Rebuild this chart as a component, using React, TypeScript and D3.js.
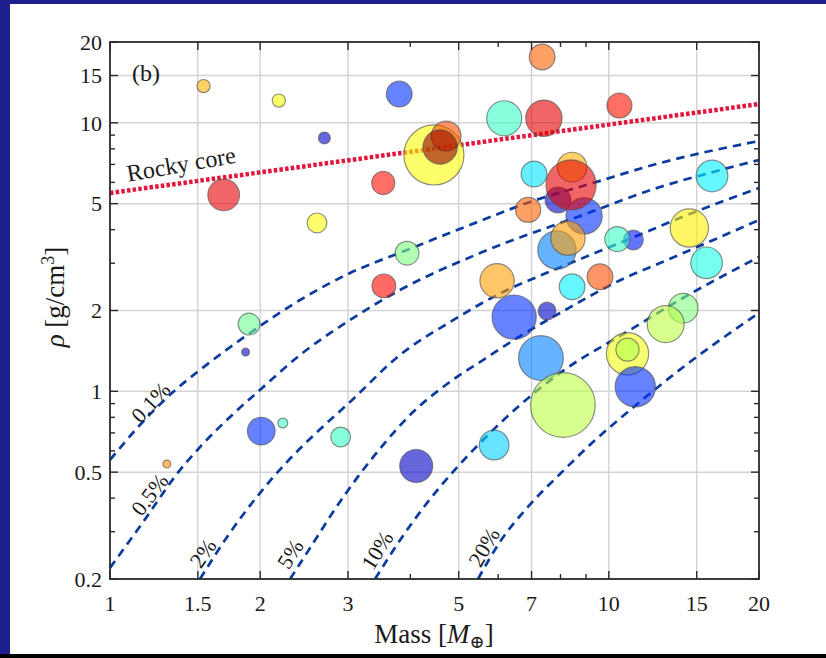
import React, { useEffect, useRef } from 'react';
import * as d3 from 'd3';

const W = 826;
const H = 658;
const FONT = "'Liberation Serif', 'DejaVu Serif', serif";

// axes
const xMajor = [1, 1.5, 2, 3, 5, 7, 10, 15, 20];
const xLabels = ['1', '1.5', '2', '3', '5', '7', '10', '15', '20'];
const xMinor = [4, 6, 8, 9];
const xGrid = [1.5, 2, 3, 5, 7, 10, 15];
const yMajor = [0.2, 0.5, 1, 2, 5, 10, 15, 20];
const yLabels = ['0.2', '0.5', '1', '2', '5', '10', '15', '20'];
const yMinor = [0.3, 0.4, 0.6, 0.7, 0.8, 0.9, 3, 4, 6, 7, 8, 9];
const yGrid = [0.5, 1, 2, 5, 10, 15];

// rocky core relation (mass, density)
const rockyCore: [number, number][] = [[1, 5.48], [20, 11.75]];

// H/He envelope fraction curves (mass, density)
const env01: [number, number][] = [
  [1, 0.555], [1.148, 0.749], [1.338, 0.994], [1.515, 1.201], [1.909, 1.649], [2.404, 2.188],
  [3.028, 2.758], [3.939, 3.36], [5.518, 4.309], [6.855, 5.028], [9.294, 5.969], [12.67, 7.084], [20, 8.558],
];
const env05: [number, number][] = [
  [1, 0.22], [1.165, 0.326], [1.381, 0.509], [1.515, 0.62], [1.765, 0.823], [1.998, 1.012],
  [2.404, 1.366], [3.028, 1.844], [3.814, 2.384], [5.518, 3.274], [8.877, 4.538], [12.67, 5.768],
  [16.18, 6.561], [20, 7.269],
];
const env2: [number, number][] = [
  [1.515, 0.2], [1.717, 0.287], [1.998, 0.418], [2.264, 0.546], [2.6, 0.705], [3.028, 0.913],
  [3.814, 1.366], [4.805, 1.812], [6.25, 2.384], [7.178, 2.666], [10.875, 3.661], [15.23, 4.736], [20, 5.719],
];
const env5: [number, number][] = [
  [2.296, 0.2], [2.518, 0.261], [2.8, 0.355], [3.128, 0.476], [3.526, 0.631], [4.05, 0.837],
  [4.739, 1.065], [5.595, 1.308], [6.545, 1.579], [7.981, 1.958], [10.875, 2.666], [12.67, 3.006], [20, 4.346],
];
const env10: [number, number][] = [
  [3.399, 0.2], [3.814, 0.279], [4.321, 0.384], [4.871, 0.501], [5.595, 0.659], [6.636, 0.889],
  [7.981, 1.17], [11.03, 1.692], [14.08, 2.226], [20, 3.164],
];
const env20: [number, number][] = [
  [5.467, 0.2], [6.05, 0.275], [6.855, 0.368], [7.981, 0.492], [9.294, 0.647], [11.03, 0.852],
  [14.54, 1.286], [20, 1.958],
];
const envCurves = [env01, env05, env2, env5, env10, env20];

// curve labels: text, mass, density, angle
const envNames = ['0.1%', '0.5%', '2%', '5%', '10%', '20%'];
const envLabelM = [1.205, 1.2, 1.535, 2.296, 3.43, 5.62];
const envLabelRho = [0.91, 0.413, 0.25, 0.248, 0.256, 0.263];
const envLabelAngle = [-47, -53, -55, -58, -58, -60];

// planets: mass, density, radius (arb. units), colour value
const planets = [
  { m: 1.54, rho: 13.7, rad: 2.0, c: 0.7 },
  { m: 2.18, rho: 12.1, rad: 2.0, c: 0.62 },
  { m: 2.69, rho: 8.78, rad: 1.8, c: 0.07 },
  { m: 1.69, rho: 5.39, rad: 4.8, c: 0.9 },
  { m: 2.6, rho: 4.24, rad: 3.0, c: 0.62 },
  { m: 7.35, rho: 17.6, rad: 3.9, c: 0.78 },
  { m: 3.8, rho: 12.8, rad: 3.9, c: 0.17 },
  { m: 6.17, rho: 10.4, rad: 5.3, c: 0.43 },
  { m: 7.41, rho: 10.4, rad: 5.5, c: 0.9 },
  { m: 10.5, rho: 11.6, rad: 3.8, c: 0.86 },
  { m: 4.46, rho: 7.59, rad: 9.1, c: 0.62 },
  { m: 4.72, rho: 8.93, rad: 4.5, c: 0.8 },
  { m: 4.59, rho: 8.13, rad: 5.2, c: 0.98 },
  { m: 3.53, rho: 5.97, rad: 3.5, c: 0.86 },
  { m: 7.08, rho: 6.45, rad: 3.9, c: 0.35 },
  { m: 7.91, rho: 5.16, rad: 3.9, c: 0.07 },
  { m: 8.92, rho: 4.5, rad: 5.5, c: 0.17 },
  { m: 8.44, rho: 6.84, rad: 4.5, c: 0.7 },
  { m: 8.4, rho: 5.87, rad: 7.6, c: 0.9 },
  { m: 6.89, rho: 4.74, rad: 3.8, c: 0.78 },
  { m: 7.87, rho: 3.36, rad: 5.8, c: 0.25 },
  { m: 8.28, rho: 3.72, rad: 5.2, c: 0.72 },
  { m: 11.2, rho: 3.66, rad: 3.0, c: 0.15 },
  { m: 10.4, rho: 3.69, rad: 3.8, c: 0.43 },
  { m: 16.1, rho: 6.34, rad: 4.8, c: 0.36 },
  { m: 14.5, rho: 4.06, rad: 5.8, c: 0.64 },
  { m: 5.97, rho: 2.58, rad: 5.2, c: 0.72 },
  { m: 8.44, rho: 2.45, rad: 3.9, c: 0.36 },
  { m: 9.6, rho: 2.67, rad: 3.9, c: 0.8 },
  { m: 6.46, rho: 1.89, rad: 6.7, c: 0.17 },
  { m: 7.52, rho: 1.99, rad: 2.7, c: 0.07 },
  { m: 7.31, rho: 1.33, rad: 6.8, c: 0.25 },
  { m: 8.09, rho: 0.889, rad: 9.8, c: 0.56 },
  { m: 10.9, rho: 1.38, rad: 6.4, c: 0.61 },
  { m: 10.9, rho: 1.43, rad: 3.5, c: 0.55 },
  { m: 11.3, rho: 1.04, rad: 6.1, c: 0.17 },
  { m: 14.1, rho: 2.04, rad: 4.5, c: 0.5 },
  { m: 13.0, rho: 1.78, rad: 5.6, c: 0.56 },
  { m: 15.7, rho: 3.01, rad: 4.8, c: 0.4 },
  { m: 5.89, rho: 0.631, rad: 4.5, c: 0.33 },
  { m: 3.94, rho: 3.27, rad: 3.6, c: 0.5 },
  { m: 1.9, rho: 1.78, rad: 3.3, c: 0.48 },
  { m: 1.87, rho: 1.4, rad: 1.2, c: 0.07 },
  { m: 3.54, rho: 2.47, rad: 3.6, c: 0.87 },
  { m: 2.01, rho: 0.711, rad: 4.2, c: 0.17 },
  { m: 2.22, rho: 0.762, rad: 1.5, c: 0.43 },
  { m: 2.9, rho: 0.676, rad: 3.0, c: 0.43 },
  { m: 1.3, rho: 0.536, rad: 1.2, c: 0.74 },
  { m: 4.11, rho: 0.527, rad: 5.0, c: 0.07 },
];

const App = () => {
  const svgRef = useRef<SVGSVGElement>(null);

  useEffect(() => {
    const svg = d3.select(svgRef.current);
    svg.selectAll('*').remove();

    const left = 110, right = 759, top = 42, bottom = 579;
    const x = d3.scaleLog().domain([1, 20]).range([left, right]);
    const y = d3.scaleLog().domain([0.2, 20]).range([bottom, top]);
    const r = d3.scaleLinear().domain([0, 10]).range([0, 33]);
    const jet = d3
      .scaleLinear<string>()
      .domain([0, 0.125, 0.375, 0.625, 0.875, 1])
      .range(['#000080', '#0000ff', '#00ffff', '#ffff00', '#ff0000', '#800000']);

    // frame
    svg.append('rect').attr('width', W).attr('height', H).attr('fill', '#1e1e8e');
    svg.append('rect').attr('x', 10).attr('y', 4).attr('width', W - 10).attr('height', 650).attr('fill', '#fff');
    svg.append('rect').attr('x', 0).attr('y', 654).attr('width', W).attr('height', 4).attr('fill', '#000');

    svg.append('clipPath').attr('id', 'plotclip')
      .append('rect').attr('x', left).attr('y', top).attr('width', right - left).attr('height', bottom - top);

    // grid
    const grid = svg.append('g').attr('stroke', '#d4d4d4').attr('stroke-width', 1.5);
    xGrid.forEach((v) => {
      grid.append('line').attr('x1', x(v)).attr('x2', x(v)).attr('y1', top).attr('y2', bottom);
    });
    yGrid.forEach((v) => {
      grid.append('line').attr('x1', left).attr('x2', right).attr('y1', y(v)).attr('y2', y(v));
    });

    const plot = svg.append('g').attr('clip-path', 'url(#plotclip)');
    const line = d3.line<[number, number]>().x((d) => x(d[0])).y((d) => y(d[1])).curve(d3.curveMonotoneX);

    envCurves.forEach((pts) => {
      plot.append('path')
        .attr('d', line(pts))
        .attr('fill', 'none')
        .attr('stroke', '#0b3b9e')
        .attr('stroke-width', 2.7)
        .attr('stroke-dasharray', '8.5 6');
    });

    plot.append('path')
      .attr('d', d3.line<[number, number]>().x((d) => x(d[0])).y((d) => y(d[1]))(rockyCore))
      .attr('fill', 'none')
      .attr('stroke', '#e3163d')
      .attr('stroke-width', 4.5)
      .attr('stroke-dasharray', '3.5 2.2');

    // planets
    plot.selectAll('circle.planet')
      .data(planets)
      .enter()
      .append('circle')
      .attr('class', 'planet')
      .attr('cx', (d) => x(d.m))
      .attr('cy', (d) => y(d.rho))
      .attr('r', (d) => r(d.rad))
      .attr('fill', (d) => jet(d.c))
      .attr('fill-opacity', 0.6)
      .attr('stroke', '#555')
      .attr('stroke-opacity', 0.65)
      .attr('stroke-width', 1.2);

    // box and ticks
    const axes = svg.append('g').attr('stroke', '#2a2a2a');
    axes.append('rect')
      .attr('x', left).attr('y', top).attr('width', right - left).attr('height', bottom - top)
      .attr('fill', 'none').attr('stroke-width', 1.8);
    const xt = (v: number, len: number) => {
      axes.append('line').attr('x1', x(v)).attr('x2', x(v)).attr('y1', bottom).attr('y2', bottom - len).attr('stroke-width', 1.4);
      axes.append('line').attr('x1', x(v)).attr('x2', x(v)).attr('y1', top).attr('y2', top + len).attr('stroke-width', 1.4);
    };
    const yt = (v: number, len: number) => {
      axes.append('line').attr('x1', left).attr('x2', left + len).attr('y1', y(v)).attr('y2', y(v)).attr('stroke-width', 1.4);
      axes.append('line').attr('x1', right).attr('x2', right - len).attr('y1', y(v)).attr('y2', y(v)).attr('stroke-width', 1.4);
    };
    xMajor.forEach((v) => xt(v, 8));
    xMinor.forEach((v) => xt(v, 5));
    yMajor.forEach((v) => yt(v, 8));
    yMinor.forEach((v) => yt(v, 5));

    const txt = svg.append('g').attr('font-family', FONT).attr('fill', '#1a1a1a');
    xMajor.forEach((v, i) => {
      txt.append('text').attr('x', x(v)).attr('y', 611).attr('text-anchor', 'middle')
        .attr('font-size', 22).text(xLabels[i]);
    });
    yMajor.forEach((v, i) => {
      txt.append('text').attr('x', 102).attr('y', y(v)).attr('dy', '0.35em').attr('text-anchor', 'end')
        .attr('font-size', 22).text(yLabels[i]);
    });

    // axis titles
    const xl = txt.append('text').attr('x', 434).attr('y', 643).attr('text-anchor', 'middle').attr('font-size', 27);
    xl.append('tspan').text('Mass [');
    xl.append('tspan').attr('font-style', 'italic').text('M');
    xl.append('tspan').attr('font-size', 18).attr('dy', 5).text('⊕');
    xl.append('tspan').attr('dy', -5).text(']');

    const yl = txt.append('text').attr('transform', 'translate(64,297) rotate(-90)')
      .attr('text-anchor', 'middle').attr('font-size', 27);
    yl.append('tspan').attr('font-style', 'italic').text('ρ');
    yl.append('tspan').text(' [g/cm');
    yl.append('tspan').attr('font-size', 18).attr('dy', -10).text('3');
    yl.append('tspan').attr('dy', 10).text(']');

    txt.append('text').attr('x', 146).attr('y', 81).attr('text-anchor', 'middle').attr('font-size', 24).text('(b)');

    txt.append('text')
      .attr('transform', `translate(${x(1.388)},${y(7.03)}) rotate(-10)`)
      .attr('text-anchor', 'middle').attr('dy', '0.35em').attr('font-size', 24)
      .text('Rocky core');

    envNames.forEach((name, i) => {
      txt.append('text')
        .attr('transform', `translate(${x(envLabelM[i])},${y(envLabelRho[i])}) rotate(${envLabelAngle[i]})`)
        .attr('text-anchor', 'middle').attr('dy', '0.35em').attr('font-size', 22)
        .text(name);
    });
  }, []);

  return (
    <svg ref={svgRef} width={W} height={H} style={{ position: 'absolute', left: 0, top: 0 }}></svg>
  );
};

export default App;
